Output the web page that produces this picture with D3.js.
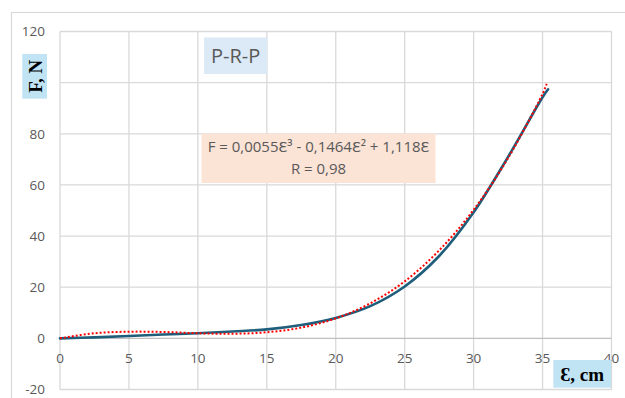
<!DOCTYPE html>
<html><head><meta charset="utf-8">
<script src="https://cdn.jsdelivr.net/npm/d3@7"></script>
<style>html,body{margin:0;padding:0;background:#fff;}svg{display:block;}</style>
</head><body>
<script>
// ---- data ----
const xTicks = [0, 5, 10, 15, 20, 25, 30, 35, 40];
const yTicks = [-20, 0, 20, 40, 60, 80, 100, 120];
const yTickLabels = ["-20", "0", "20", "40", "60", "80", "", "120"];
const measuredX = [0, 2.5, 5, 7.5, 10, 12.5, 15, 17.5, 20, 22.5, 25, 27.5, 30, 32.5, 35, 35.4];
const measuredF = [0, 0.4, 0.9, 1.5, 2.0, 2.7, 3.5, 5.2, 8.0, 12.6, 20.3, 32.2, 49.3, 71, 94.3, 97.4];
const trendX = [0, 2.5, 5, 7.5, 10, 12.5, 15, 17.5, 20, 22.5, 25, 27.5, 30, 32.5, 35, 35.3];
const trendF = [0, 2.0, 2.6, 2.5, 2.0, 1.8, 2.4, 4.2, 7.8, 13.7, 22.3, 34.4, 50.3, 70.5, 95.6, 99.5];
const titleText = "P-R-P";
const equationLines = ["F = 0,0055Ɛ³ - 0,1464Ɛ² + 1,118Ɛ", "R = 0,98"];
const yAxisTitle = "F, N";
const xAxisTitle = "Ɛ, cm";

// ---- layout ----
const W = 625, H = 398;
const svg = d3.select("body").append("svg").attr("width", W).attr("height", H);
const x = d3.scaleLinear().domain([0, 40]).range([60, 611.5]);
const y = d3.scaleLinear().domain([-20, 120]).range([389.5, 31.5]);
const sans = "'Open Sans', 'Noto Sans', sans-serif";
const serif = "'Liberation Serif', 'DejaVu Serif', serif";

// outer chart border
svg.append("rect").attr("x", 11.5).attr("y", 12.5).attr("width", 640).attr("height", 420)
  .attr("fill", "none").attr("stroke", "#d9d9d9").attr("stroke-width", 1.2);

// gridlines
const grid = svg.append("g");
grid.selectAll("line.v").data(xTicks).join("line").attr("class", "v")
  .attr("x1", d => x(d)).attr("x2", d => x(d)).attr("y1", y(120)).attr("y2", y(-20))
  .attr("stroke", "#d9d9d9").attr("stroke-width", 1.3);
grid.selectAll("line.h").data(yTicks).join("line").attr("class", "h")
  .attr("x1", x(0)).attr("x2", x(40)).attr("y1", d => y(d)).attr("y2", d => y(d))
  .attr("stroke", d => d === 0 ? "#bfbfbf" : "#d9d9d9").attr("stroke-width", 1.3);

// y tick labels
svg.append("g").selectAll("text").data(yTicks).join("text")
  .attr("x", 45).attr("y", d => y(d)).attr("dy", "0.35em").attr("text-anchor", "end")
  .attr("font-family", sans).attr("font-size", 13.5).attr("fill", "#595959")
  .text((d, i) => yTickLabels[i] !== "" ? yTickLabels[i] : d);

// x tick labels
svg.append("g").selectAll("text").data(xTicks).join("text")
  .attr("x", d => x(d)).attr("y", y(0) + 20).attr("dy", "0.35em").attr("text-anchor", "middle")
  .attr("font-family", sans).attr("font-size", 13.5).attr("fill", "#595959")
  .text(d => d);

// series
const line = d3.line().x(d => x(d[0])).y(d => y(d[1])).curve(d3.curveCatmullRom.alpha(0.5));
svg.append("path").datum(d3.zip(measuredX, measuredF)).attr("d", line)
  .attr("fill", "none").attr("stroke", "#1f5e7b").attr("stroke-width", 2.6).attr("stroke-linecap", "round");
svg.append("path").datum(d3.zip(trendX, trendF)).attr("d", line)
  .attr("fill", "none").attr("stroke", "#ff0000").attr("stroke-width", 2)
  .attr("stroke-dasharray", "2 2");

// title box
svg.append("rect").attr("x", 204).attr("y", 37.5).attr("width", 63.5).attr("height", 36.5).attr("fill", "#dce9f6");
svg.append("text").attr("x", 235.7).attr("y", 56).attr("dy", "0.35em").attr("text-anchor", "middle")
  .attr("font-family", sans).attr("font-size", 20).attr("fill", "#595959").text(titleText);

// equation box
svg.append("rect").attr("x", 201.5).attr("y", 133.5).attr("width", 234).attr("height", 49.5).attr("fill", "#fbe3d6");
svg.append("g").selectAll("text").data(equationLines).join("text")
  .attr("x", 318.5).attr("y", (d, i) => 146.5 + i * 22.5).attr("dy", "0.35em").attr("text-anchor", "middle")
  .attr("font-family", sans).attr("font-size", 15).attr("fill", "#595959").text(d => d);

// y axis title
svg.append("rect").attr("x", 22.3).attr("y", 54).attr("width", 24.7).attr("height", 44.7).attr("fill", "#c1e4f5");
svg.append("text").attr("transform", "translate(35,76.3) rotate(-90)").attr("dy", "0.35em")
  .attr("text-anchor", "middle").attr("font-family", serif).attr("font-weight", "bold")
  .attr("font-size", 19).attr("fill", "#000").text(yAxisTitle);

// x axis title
svg.append("rect").attr("x", 553.3).attr("y", 360).attr("width", 57.7).attr("height", 27.7).attr("fill", "#c1e4f5");
svg.append("text").attr("x", 582.2).attr("y", 374).attr("dy", "0.35em")
  .attr("text-anchor", "middle").attr("font-family", serif).attr("font-weight", "bold")
  .attr("font-size", 19).attr("fill", "#000").text(xAxisTitle);
</script>
</body></html>
